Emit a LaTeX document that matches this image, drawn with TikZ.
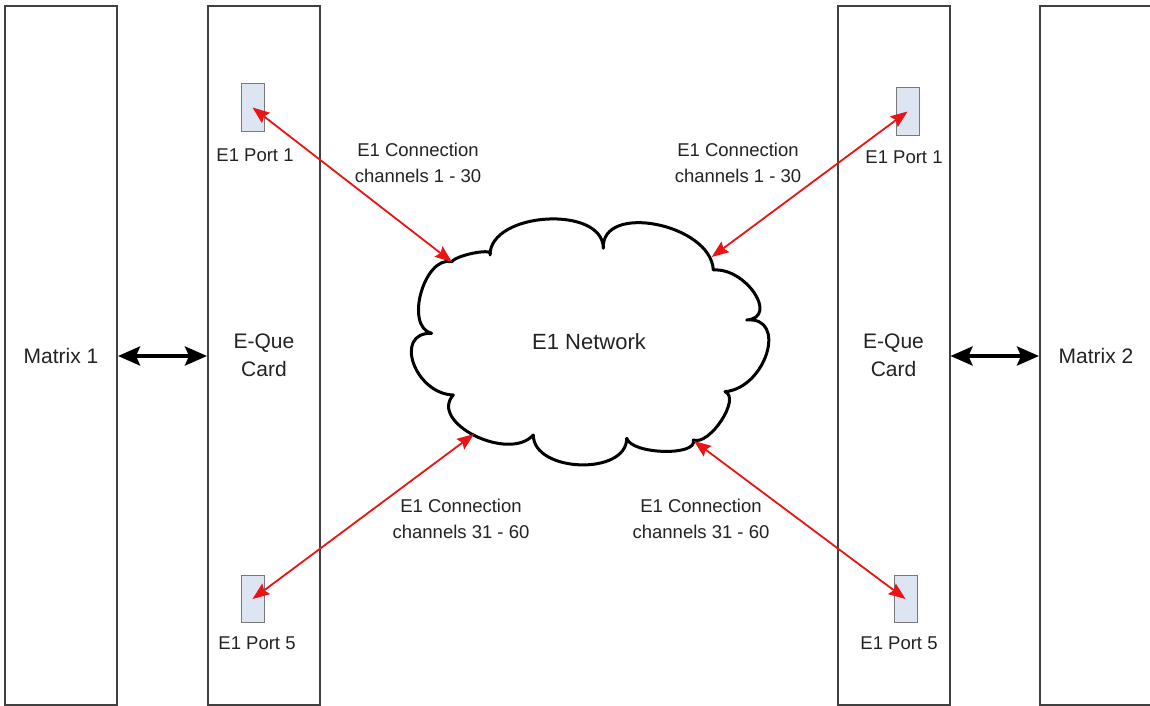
\documentclass[tikz,border=0pt]{standalone}
\usepackage{fontspec}
\setmainfont{Liberation Sans}
\usetikzlibrary{arrows.meta}
\definecolor{boxline}{RGB}{64,64,64}
\definecolor{portfill}{RGB}{222,229,242}
\definecolor{portline}{RGB}{120,120,120}
\definecolor{txt}{RGB}{35,35,35}
\definecolor{redline}{RGB}{235,20,20}
\tikzset{
  bigbox/.style={draw=boxline, line width=2pt, minimum width=112pt, minimum height=699pt, inner sep=0pt, text=txt, font=\fontsize{21}{27.5}\selectfont, align=center},
  port/.style={draw=portline, fill=portfill, line width=1pt, minimum width=23pt, minimum height=47pt, inner sep=0pt},
  lbl/.style={text=txt, font=\fontsize{18.5}{26.5}\selectfont, align=center, inner sep=0pt},
  redarrow/.style={draw=redline, line width=1.8pt, {Stealth[length=17pt,width=13pt,inset=2.5pt]}-{Stealth[length=17pt,width=13pt,inset=2.5pt]}},
  blackarrow/.style={draw=black, line width=3.6pt, {Stealth[length=22pt,width=19pt,inset=4pt]}-{Stealth[length=22pt,width=19pt,inset=4pt]}},
  cloudline/.style={draw=black, line width=3pt, fill=white, line join=round}
}
\begin{document}
\begin{tikzpicture}[x=1pt,y=-1pt]
\useasboundingbox (0,0) rectangle (1150,706);
\clip (0,0) rectangle (1150,706);
\fill[white] (0,0) rectangle (1150,706);

% big boxes
\node[bigbox] (m1) at (61,355.5) {Matrix 1};
\node[bigbox] (eq1) at (264,355.5) {E-Que\\Card};
\node[bigbox] (eq2) at (893.5,355.5) {E-Que\\Card};
\node[bigbox] (m2) at (1096,355.5) {Matrix 2};

% ports
\node[port] (p1l) at (252.5,107.5) {};
\node[port] (p5l) at (252.5,599) {};
\node[port] (p1r) at (907.5,111.5) {};
\node[port] (p5r) at (905.5,599) {};

\node[lbl] (p1lt) at (255,155) {E1 Port 1};
\node[lbl] (p5lt) at (257,643) {E1 Port 5};
\node[lbl] (p1rt) at (904,157) {E1 Port 1};
\node[lbl] (p5rt) at (899,643) {E1 Port 5};

% cloud
\path[cloudline] (451.7,261.7)
  .. controls (457.9,254.2) and (496.2,247.5) .. (490,255)
  .. controls (490,211.6) and (603.3,204.9) .. (603.3,248.3)
  .. controls (600.9,202.1) and (710.9,223.8) .. (713.3,270)
  .. controls (745.8,267.4) and (779.2,317.4) .. (746.7,320)
  .. controls (787.9,316.2) and (766.2,387.9) .. (725,391.7)
  .. controls (741.3,397.9) and (709.6,446.2) .. (693.3,440)
  .. controls (698.3,456.3) and (631.7,454.6) .. (626.7,438.3)
  .. controls (626.7,475.9) and (533.3,472.6) .. (533.3,435)
  .. controls (508.4,462.5) and (428.4,422.5) .. (453.3,395)
  .. controls (414.6,393.8) and (393.0,332.1) .. (431.7,333.3)
  .. controls (404.1,327.0) and (424.1,255.4) .. (451.7,261.7) -- cycle;
\node[lbl, font=\fontsize{22}{26}\selectfont] (net) at (589,342) {E1 Network};

\coordinate (ctl) at (452,262);
\coordinate (ctr) at (711.7,257);
\coordinate (cbl) at (474,434);
\coordinate (cbr) at (694,441);

% red connections
\draw[redarrow] (p1l.center) -- (ctl);
\draw[redarrow] (p1r.center) -- (ctr);
\draw[redarrow] (p5l.center) -- (cbl);
\draw[redarrow] (p5r.center) -- (cbr);

\node[lbl] (c1) at (418,163) {E1 Connection\\channels 1 - 30};
\node[lbl] (c2) at (738,163) {E1 Connection\\channels 1 - 30};
\node[lbl] (c3) at (461,519) {E1 Connection\\channels 31 - 60};
\node[lbl] (c4) at (701,519) {E1 Connection\\channels 31 - 60};

% black links
\draw[blackarrow] (m1.east |- 0,356) -- (eq1.west |- 0,356);
\draw[blackarrow] (eq2.east |- 0,356) -- (m2.west |- 0,356);
\end{tikzpicture}
\end{document}
